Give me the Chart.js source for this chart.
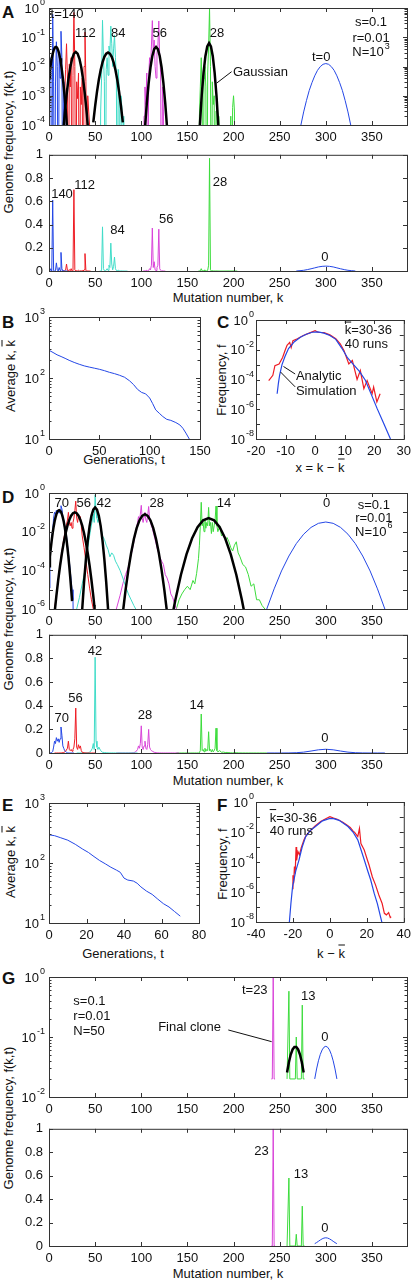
<!DOCTYPE html>
<html>
<head>
<meta charset="utf-8">
<script src="https://cdn.jsdelivr.net/npm/chart.js@4.4.0/dist/chart.umd.min.js"></script>
<style>
body{margin:0;background:#fff;width:416px;height:1280px;position:relative;overflow:hidden;font-family:"Liberation Sans",Arial,sans-serif;color:#111;}
canvas{position:absolute;left:0;}
.t{position:absolute;font-size:13px;white-space:nowrap;line-height:1;}
.L{position:absolute;font-size:17px;font-weight:bold;line-height:1;}
.ctr{transform:translate(-50%,-50%);}
.rot{transform:translate(-50%,-50%) rotate(-90deg);}
.ob{text-decoration:overline;}
</style>
</head>
<body>
<div class="L" style="left:2px;top:4px">A</div>
<div class="L" style="left:2px;top:314px">B</div>
<div class="L" style="left:217px;top:314px">C</div>
<div class="L" style="left:2px;top:489px">D</div>
<div class="L" style="left:2px;top:797px">E</div>
<div class="L" style="left:217px;top:797px">F</div>
<div class="L" style="left:2px;top:970px">G</div>

<div class="t rot" style="left:8px;top:142px">Genome frequency, f(k,t)</div>
<div class="t rot" style="left:8px;top:619px">Genome frequency, f(k,t)</div>
<div class="t rot" style="left:8px;top:1118px">Genome frequency, f(k,t)</div>
<div class="t rot" style="left:10px;top:376px">Average k, <span class="ob">k</span></div>
<div class="t rot" style="left:10px;top:862px">Average k, <span class="ob">k</span></div>
<div class="t rot" style="left:221px;top:380px">Frequency, f</div>
<div class="t rot" style="left:222px;top:864px">Frequency, f</div>

<div class="t ctr" style="left:228px;top:297px">Mutation number, k</div>
<div class="t ctr" style="left:228px;top:780px">Mutation number, k</div>
<div class="t ctr" style="left:228px;top:1273px">Mutation number, k</div>
<div class="t ctr" style="left:124px;top:459px">Generations, t</div>
<div class="t ctr" style="left:123px;top:953px">Generations, t</div>
<div class="t ctr" style="left:320px;top:467px">x = k &minus; <span class="ob">k</span></div>
<div class="t ctr" style="left:331px;top:953px">k &minus; <span class="ob">k</span></div>

<script>
// ---------- tick values ----------
const mainXTicks = [0, 50, 100, 150, 200, 250, 300, 350];
const linYTicks = [0, 0.2, 0.4, 0.6, 0.8, 1];
const bXTicks = [0, 50, 100, 150];
const eXTicks = [0, 20, 40, 60, 80];
const cXTicks = [-20, -10, 0, 10, 20, 30];
const fXTicks = [-40, -20, 0, 20, 40];

// ---------- panel A (N=10^3) ----------
const aBlueK0 = 0;   // t=140
const aBlueF = [0.01, 0.004, 0.02, 0, 0.61, 0.003, 0, 0.002, 0.07, 0.01, 0, 0.03, 0.004, 0.16, 0.02, 0, 0.003, 0.0005, 0, 0.0002, 0];
const aRedK0 = 15;   // t=112
const aRedF = [0, 0.0002, 0.001, 0.008, 0.06, 0.004, 0, 0.012, 0.002, 0.02, 0, 0.005, 0.70, 0.01, 0, 0.003, 0.0008, 0.006, 0, 0.002, 0.0005, 0.004, 0, 0.01, 0.15, 0.003, 0, 0.001, 0.0003, 0.0001, 0];
const aCyanK0 = 55;  // t=84
const aCyanF = [0, 0.0003, 0.004, 0.38, 0.02, 0.003, 0, 0.008, 0.02, 0.005, 0.05, 0.03, 0.24, 0.06, 0.01, 0.04, 0.12, 0.02, 0.005, 0, 0.008, 0.002, 0, 0.001, 0.0004, 0, 0.0002, 0, 0.0001, 0, 0];
const aMagK0 = 102;  // t=56
const aMagF = [0, 0.0002, 0.002, 0.0005, 0.006, 0, 0.004, 0.02, 0.01, 0.05, 0.37, 0.03, 0.08, 0.01, 0.004, 0.03, 0.05, 0.36, 0.02, 0.006, 0, 0.002, 0.0003, 0, 0.0001];
const aGreenK0 = 162; // t=28
const aGreenF = [0, 0.0002, 0.002, 0.02, 0.001, 0, 0.004, 0.01, 0.002, 0, 0.006, 0.05, 0.97, 0.01, 0, 0.003, 0.0005, 0.001, 0, 0.0003, 0.0008, 0, 0.0002, 0, 0, 0, 0, 0, 0, 0, 0, 0, 0, 0, 0, 0.0002, 0, 0.0004, 0.001, 0.0003, 0, 0.0001, 0];
const aT0Log = [[273,1e-4],[276,2.8e-4],[279,6.8e-4],[282,1.5e-3],[285,2.8e-3],[288,4.8e-3],[291,7.4e-3],[294,9.9e-3],[297,1.19e-2],[300,1.26e-2],[303,1.19e-2],[306,9.9e-3],[309,7.4e-3],[312,4.8e-3],[315,2.8e-3],[318,1.5e-3],[321,6.8e-4],[324,2.8e-4],[327,1e-4]];
const aT0Lin = [[268,0],[272,0.003],[276,0.006],[280,0.012],[284,0.019],[288,0.027],[292,0.035],[296,0.040],[300,0.042],[304,0.040],[308,0.035],[312,0.027],[316,0.019],[320,0.012],[324,0.006],[328,0.003],[332,0]];
const aGauss1 = [[0,0.0040],[1,0.0074],[2,0.0124],[3,0.0193],[4,0.0274],[5,0.0356],[6,0.0424],[7,0.0462],[8,0.0462],[9,0.0424],[10,0.0356],[11,0.0274],[12,0.0193],[13,0.0124],[14,0.0074],[15,0.0040],[16,0.00198],[17,0.0009],[18,0.00038],[19,0.000144],[20,0.00005]];
const aGauss2 = [[15,4e-5],[17,2.34e-4],[19,1.05e-3],[21,3.57e-3],[23,9.27e-3],[25,1.83e-2],[27,2.76e-2],[29,3.16e-2],[31,2.76e-2],[33,1.83e-2],[35,9.27e-3],[37,3.57e-3],[39,1.05e-3],[41,2.34e-4],[43,4e-5]];
const aGauss3 = [[48,1.22e-4],[50,4.44e-4],[52,1.36e-3],[54,3.51e-3],[56,7.6e-3],[58,1.39e-2],[60,2.14e-2],[62,2.77e-2],[64,3.0e-2],[66,2.77e-2],[68,2.14e-2],[70,1.39e-2],[72,7.6e-3],[74,3.51e-3],[76,1.36e-3],[78,4.44e-4],[80,1.22e-4]];
const aGauss4 = [[104,7.8e-5],[106,5.5e-4],[108,2.72e-3],[110,9.44e-3],[112,2.3e-2],[114,3.92e-2],[116,4.68e-2],[118,3.92e-2],[120,2.3e-2],[122,9.44e-3],[124,2.72e-3],[126,5.5e-4],[128,7.8e-5]];
const aGauss5 = [[163.5,1e-4],[165.5,1.02e-3],[167.5,6.2e-3],[169.5,2.25e-2],[171.5,4.88e-2],[173.5,6.3e-2],[175.5,4.88e-2],[177.5,2.25e-2],[179.5,6.2e-3],[181.5,1.02e-3],[183.5,1e-4]];

// ---------- panel D (N=10^6) ----------
const dBlue = [[0,1.2e-5],[1,3e-4],[2,1.5e-3],[3,5e-3],[4,0.012],[5,0.05],[6,0.1],[7,0.08],[8,0.13],[9,0.1],[10,0.12],[11,0.09],[12,0.12],[13,0.22],[14,0.15],[15,0.06],[16,0.04],[17,0.02],[18,0.012],[19,0.006],[20,0.002],[21,8e-4],[22,3e-4],[23,1e-4],[24,3e-5],[25,1e-5],[26,3e-6],[27,0]];
const dRed = [[6,1e-6],[8,5e-6],[10,3e-5],[12,2e-4],[14,1e-3],[16,4e-3],[18,0.015],[20,0.04],[21,0.1],[22,0.03],[23,0.02],[24,0.03],[25,0.015],[26,0.03],[27,0.05],[28,0.12],[29,0.38],[30,0.05],[31,0.03],[32,0.07],[33,0.04],[34,0.06],[35,0.02],[36,0.006],[38,1.5e-3],[40,3e-4],[42,6e-5],[44,1.2e-5],[46,3e-6],[48,1e-6],[50,0]];
const dCyan = [[30,1e-6],[33,4e-6],[36,2e-5],[39,1e-4],[41,5e-4],[43,3e-3],[45,0.012],[47,0.04],[48,0.08],[49,0.03],[50,0.81],[51,0.1],[52,0.05],[53,0.03],[54,0.05],[56,0.02],[58,0.006],[60,0.004],[62,0.002],[64,1.2e-3],[66,5e-4],[68,8e-4],[70,6e-4],[72,3e-4],[74,2e-4],[77,1e-4],[80,4e-5],[83,1.5e-5],[86,6e-6],[89,3e-6],[92,1.5e-6],[94,1e-6],[96,0]];
const dMag = [[73,1e-6],[77,5e-6],[80,2e-5],[83,6e-5],[86,1.5e-4],[88,4e-4],[90,1e-3],[92,3e-3],[94,0.01],[96,0.03],[97,0.06],[98,0.04],[99,0.08],[100,0.23],[101,0.05],[102,0.03],[103,0.06],[104,0.1],[105,0.04],[106,0.03],[107,0.07],[108,0.2],[109,0.05],[110,0.03],[111,0.02],[112,0.015],[114,0.006],[116,2.5e-3],[118,1e-3],[120,5e-4],[122,3e-4],[124,2e-4],[126,6e-5],[128,4e-5],[130,2e-5],[132,6e-6],[134,4e-6],[136,2e-6],[138,1e-6],[141,0]];
const dGreen = [[138,1e-6],[141,3e-6],[144,6e-6],[147,1e-5],[150,1.5e-5],[153,1e-5],[156,3e-5],[158,2e-5],[160,7e-5],[162,4e-4],[163,2e-3],[164,0.02],[165,0.33],[166,0.02],[167,0.03],[168,0.01],[169,0.04],[170,0.015],[171,0.03],[172,0.02],[173,0.18],[174,0.02],[175,0.03],[176,0.008],[177,0.03],[178,0.01],[179,0.02],[180,0.04],[181,0.21],[182,0.02],[183,0.01],[185,0.02],[187,0.006],[189,0.008],[191,0.004],[193,0.005],[195,0.003],[197,0.0015],[199,0.001],[201,0.002],[203,0.003],[205,8e-4],[207,5e-4],[210,2e-4],[213,1.5e-4],[216,6e-5],[219,1.5e-5],[222,2e-5],[225,3e-6],[228,3e-6],[231,1.5e-6],[234,1e-6],[236,0]];
const dT0 = [[236,1e-6],[244,1.1e-5],[252,9.3e-5],[260,5.5e-4],[268,2.4e-3],[276,7.4e-3],[284,1.66e-2],[292,2.7e-2],[300,3.16e-2],[308,2.7e-2],[316,1.66e-2],[324,7.4e-3],[332,2.4e-3],[340,5.5e-4],[348,9.3e-5],[356,1.1e-5],[364,1e-6]];
const dGauss1 = [[0,1.61e-4],[1,5.13e-4],[2,1.47e-3],[3,3.75e-3],[4,8.59e-3],[5,1.76e-2],[6,3.24e-2],[7,5.32e-2],[8,7.83e-2],[9,0.103],[10,0.122],[11,0.129],[12,0.122],[13,0.103],[14,7.83e-2],[15,5.32e-2],[16,3.24e-2],[17,1.76e-2],[18,8.59e-3],[19,3.75e-3],[20,1.47e-3],[21,5.13e-4],[22,1.61e-4],[23,4.51e-5],[24,1.13e-5],[25,2.55e-6]];
const dGauss2 = [[6,5.93e-7],[8,4.79e-6],[10,3.17e-5],[12,1.72e-4],[14,7.64e-4],[16,2.79e-3],[18,8.32e-3],[20,2.04e-2],[22,4.08e-2],[24,6.71e-2],[26,9.05e-2],[28,0.1],[30,9.05e-2],[32,6.71e-2],[34,4.08e-2],[36,2.04e-2],[38,8.32e-3],[40,2.79e-3],[42,7.64e-4],[44,1.72e-4],[46,3.17e-5],[48,4.79e-6],[50,5.93e-7]];
const dGauss3 = [[36,1e-6],[38,2.45e-5],[40,3.72e-4],[42,3.43e-3],[44,1.93e-2],[46,6.62e-2],[48,0.139],[50,0.178],[52,0.139],[54,6.62e-2],[56,1.93e-2],[58,3.43e-3],[60,3.72e-4],[62,2.45e-5],[64,1e-6]];
const dGauss4 = [[80,6.18e-7],[83,9.7e-6],[86,1.06e-4],[89,8.02e-4],[92,4.2e-3],[95,1.52e-2],[98,3.81e-2],[101,6.61e-2],[104,7.94e-2],[107,6.61e-2],[110,3.81e-2],[113,1.52e-2],[116,4.2e-3],[119,8.02e-4],[122,1.06e-4],[125,9.7e-6],[128,6.18e-7]];
const dGauss5 = [[134,5.61e-7],[137,3.03e-6],[143,5.89e-5],[149,6.68e-4],[155,4.42e-3],[161,1.7e-2],[167,3.83e-2],[173,5.01e-2],[179,3.83e-2],[185,1.7e-2],[191,4.42e-3],[197,6.68e-4],[203,5.89e-5],[209,3.03e-6],[212,5.61e-7]];

// ---------- panel G (N=50) ----------
const gMag = [[241,0],[242,0],[243,1.0],[244,0],[245,0]];
const gGreen = [[258,0],[259,0],[260,0.58],[261,0],[267,0],[268,0.1],[269,0],[273.5,0],[274.5,0.34],[275.5,0],[277,0]];
const gGauss = [[258,0.0257],[260,0.038],[262,0.051],[264,0.062],[266,0.0684],[268,0.0684],[270,0.062],[272,0.051],[274,0.038],[276,0.0257]];
const gT0 = [[288,0.020],[290,0.0293],[292,0.0401],[294,0.0512],[296,0.0609],[298,0.0676],[300,0.07],[302,0.0676],[304,0.0609],[306,0.0512],[308,0.0401],[310,0.0293],[312,0.020]];

// ---------- panels B, E (mean mutation number) ----------
const bMean = [[0,285],[4,262],[8,240],[12,225],[16,210],[20,195],[25,180],[30,168],[35,158],[40,151],[45,145],[50,139],[55,132],[60,124],[65,118],[70,111],[75,103],[80,90],[84,78],[88,65],[92,58],[96,55],[100,47],[103,38],[106,30],[110,26],[113,23.4],[117,21],[121,20.2],[126,18.6],[130,17],[133,15],[136,12.5],[140,9.6]];
const eMean = [[0,295],[3,285],[6,265],[10,240],[14,205],[18,170],[21,150],[24,128],[27,110],[30,97],[33,85],[36,76],[38,70],[40,56],[42,52],[45,50],[47,46],[49,40],[52,34],[55,30],[58,25],[61,21],[64,18.5],[67,15.5],[70,13]];

// ---------- panels C, F (distribution around the mean) ----------
const cAnalytic = [[-12.85,1.1e-5],[-12.4,6e-5],[-12,2e-4],[-11.2,1e-3],[-10.2,3.5e-3],[-9,0.012],[-7,0.035],[-5,0.07],[-3,0.11],[-1,0.15],[1,0.16],[3,0.13],[5,0.09],[7,0.05],[9,0.013],[11,2.8e-3],[13,1e-3],[15,3.5e-4],[17,9e-5],[19,1e-5],[21,1.1e-6],[23,1.4e-7],[25.5,1e-8]];
const cSim = [[-15.7,8.5e-5],[-14.3,1.9e-4],[-13.6,8.5e-4],[-12.2,1.1e-3],[-11,3e-3],[-10.2,8.5e-3],[-9.5,0.02],[-8.6,0.031],[-8.1,0.014],[-7.5,0.04],[-6,0.055],[-4,0.09],[-2,0.13],[0,0.19],[1,0.15],[3,0.14],[5,0.1],[7,0.055],[8.5,0.025],[9.8,8.5e-3],[11.4,1.1e-3],[12.6,1.9e-3],[14.2,1e-4],[15.3,4e-4],[16.5,2.4e-5],[17.6,8.5e-5],[19.3,1.1e-5],[19.8,3.1e-5],[20.9,3.1e-6],[22,1.1e-5]];
const fAnalytic = [[-22,8e-9],[-21.1,1.7e-7],[-20.2,2.3e-6],[-18.5,2.5e-5],[-16.7,1.4e-4],[-15,1e-3],[-13.1,4.9e-3],[-10.5,0.013],[-7.8,0.023],[-4,0.055],[0,0.08],[2,0.078],[5,0.06],[9.8,0.023],[12.5,0.01],[15.1,3e-3],[18.6,1.4e-4],[20.5,2.5e-5],[22.1,6.3e-6],[24,8e-7],[25.7,1.7e-7],[28.3,8e-9]];
const fSim = [[-20.4,1.7e-6],[-20,1.3e-5],[-19.6,3.8e-6],[-19.2,4.9e-5],[-18.8,1.7e-5],[-18.3,1e-3],[-18,1.3e-4],[-17.3,5e-4],[-16.5,3e-4],[-15.5,9e-4],[-14,3e-3],[-13,5.5e-3],[-11,0.011],[-8,0.025],[-5,0.05],[-2,0.08],[0,0.105],[2,0.085],[4,0.07],[7,0.045],[9,0.03],[11,0.02],[12.5,0.012],[13.5,0.009],[15.1,4.9e-3],[16,0.017],[16.8,1.7e-3],[18.6,6.3e-4],[20.3,1.35e-4],[21.2,6.3e-5],[23,1e-5],[24.7,3e-6],[26.5,6.3e-7],[28.3,1.7e-7],[29.5,3.8e-8],[30.6,3e-8],[31.8,4.2e-8],[32.7,2e-8],[33.2,2.2e-8]];

// ---------- look ----------
const BLUE = '#2447e6', RED = '#ee1c24', CYAN = '#40dcc8', MAG = '#d944d9', GREEN = '#3cdc3c', BLACK = '#000';
const FONT = '13px "Liberation Sans", Arial, sans-serif';
const SUP = '9px "Liberation Sans", Arial, sans-serif';
const TINY = 1e-9;

Chart.defaults.font.family = '"Liberation Sans", Arial, sans-serif';
Chart.defaults.font.size = 13;
Chart.defaults.color = '#111';

function pts(pairs, floor) {
  return pairs.map(p => ({x: p[0], y: floor ? Math.max(p[1], floor) : p[1]}));
}
function run(k0, vals, floor) {
  return vals.map((v, i) => ({x: k0 + i, y: floor ? Math.max(v, floor) : v}));
}
function line(data, color, w) {
  return {data: data, borderColor: color, borderWidth: w || 1, pointRadius: 0, fill: false, tension: 0};
}

function drawNote(ctx, n, px, py) {
  ctx.font = FONT;
  const w1 = ctx.measureText(n.t).width;
  ctx.font = SUP;
  const w2 = n.sup ? ctx.measureText(n.sup).width + 1 : 0;
  let x0 = px;
  if (!n.a || n.a === 'center') x0 = px - (w1 + w2) / 2;
  else if (n.a === 'right') x0 = px - w1 - w2;
  ctx.fillStyle = '#111';
  ctx.textAlign = 'left';
  ctx.textBaseline = 'middle';
  ctx.font = FONT;
  ctx.fillText(n.t, x0, py);
  if (n.bar) {
    const wk = ctx.measureText('k').width;
    ctx.fillRect(x0, py - 9, wk, 1);
  }
  if (n.sup) {
    ctx.font = SUP;
    ctx.fillText(n.sup, x0 + w1 + 1, py - 6);
  }
}

function framePlugin(o) {
  return {
    id: 'frame',
    afterDraw(chart) {
      const ctx = chart.ctx, a = chart.chartArea, x = chart.scales.x, y = chart.scales.y;
      ctx.save();
      ctx.strokeStyle = '#333';
      ctx.lineWidth = 1;
      ctx.strokeRect(a.left + 0.5, a.top + 0.5, a.right - a.left, a.bottom - a.top);
      ctx.beginPath();
      o.xt.forEach(v => {
        const p = Math.round(x.getPixelForValue(v)) + 0.5;
        ctx.moveTo(p, a.bottom); ctx.lineTo(p, a.bottom - 4);
        ctx.moveTo(p, a.top); ctx.lineTo(p, a.top + 4);
      });
      o.yt.forEach(v => {
        const p = Math.round(y.getPixelForValue(v)) + 0.5;
        ctx.moveTo(a.left, p); ctx.lineTo(a.left + 4, p);
        ctx.moveTo(a.right, p); ctx.lineTo(a.right - 4, p);
      });
      if (o.minor) {
        for (let i = 0; i < o.yt.length - 1; i++) {
          for (let m = 2; m < 10; m++) {
            const p = Math.round(y.getPixelForValue(o.yt[i] * m)) + 0.5;
            ctx.moveTo(a.left, p); ctx.lineTo(a.left + 2.5, p);
            ctx.moveTo(a.right, p); ctx.lineTo(a.right - 2.5, p);
          }
        }
      }
      ctx.stroke();
      if (o.log) {
        const gap = o.gap || 4;
        o.yt.forEach(v => {
          const e = Math.round(Math.log10(v));
          if (o.every && e % o.every !== 0) return;
          drawNote(ctx, {t: '10', sup: String(e), a: 'right'}, a.left - gap, y.getPixelForValue(v) + 1);
        });
      }
      ctx.strokeStyle = '#111';
      ctx.beginPath();
      (o.leaders || []).forEach(l => {
        ctx.moveTo(x.getPixelForValue(l[0]), y.getPixelForValue(l[1]));
        ctx.lineTo(x.getPixelForValue(l[2]), y.getPixelForValue(l[3]));
      });
      ctx.stroke();
      (o.notes || []).forEach(n => drawNote(ctx, n, x.getPixelForValue(n.x), y.getPixelForValue(n.y)));
      ctx.restore();
    }
  };
}

function panel(o) {
  const cv = document.createElement('canvas');
  const top = o.box[1] - 12;
  cv.width = 416;
  cv.height = o.box[3] - top + 28;
  cv.style.top = top + 'px';
  document.body.appendChild(cv);
  new Chart(cv, {
    type: 'line',
    data: {datasets: o.sets},
    options: {
      responsive: false,
      animation: false,
      events: [],
      layout: {padding: {top: 12, right: 416 - o.box[2], left: 0, bottom: 0}},
      plugins: {legend: {display: false}, tooltip: {enabled: false}},
      scales: {
        x: {
          type: 'linear', min: o.xmin, max: o.xmax,
          afterFit: s => { s.height = 28; },
          afterBuildTicks: s => { s.ticks = o.xt.map(v => ({value: v})); },
          grid: {display: false, drawTicks: false},
          border: {display: false},
          ticks: {padding: 5, maxRotation: 0, autoSkip: false, color: '#111', callback: v => String(v)}
        },
        y: {
          type: o.log ? 'logarithmic' : 'linear', min: o.ymin, max: o.ymax,
          afterFit: s => { s.width = o.box[0]; },
          afterBuildTicks: s => { s.ticks = o.yt.map(v => ({value: v})); },
          grid: {display: false, drawTicks: false},
          border: {display: false},
          ticks: {display: !o.log, padding: 6, color: '#111', callback: v => String(v)}
        }
      }
    },
    plugins: [framePlugin(o)]
  });
}

// A top (log)
panel({
  box: [49, 8, 407, 125], xmin: 0, xmax: 388, xt: mainXTicks,
  log: true, ymin: 1e-4, ymax: 1, yt: [1e-4, 1e-3, 1e-2, 1e-1, 1], minor: true,
  sets: [
    line(pts(aGauss1), BLACK, 2.5), line(pts(aGauss2), BLACK, 2.5), line(pts(aGauss3), BLACK, 2.5),
    line(pts(aGauss4), BLACK, 2.5), line(pts(aGauss5), BLACK, 2.5),
    line(run(aBlueK0, aBlueF, TINY), BLUE), line(run(aRedK0, aRedF, TINY), RED),
    line(run(aCyanK0, aCyanF, TINY), CYAN), line(run(aMagK0, aMagF, TINY), MAG),
    line(run(aGreenK0, aGreenF, TINY), GREEN), line(pts(aT0Log), BLUE)
  ],
  notes: [
    {x: 19.5, y: 0.58, t: 't=140'}, {x: 39.5, y: 0.14, t: '112'}, {x: 75, y: 0.14, t: '84'},
    {x: 120, y: 0.14, t: '56'}, {x: 182, y: 0.14, t: '28'}, {x: 295, y: 0.021, t: 't=0'},
    {x: 349, y: 0.31, t: 's=0.1'}, {x: 349, y: 0.094, t: 'r=0.01'}, {x: 349, y: 0.03, t: 'N=10', sup: '3'},
    {x: 199.4, y: 0.0065, t: 'Gaussian', a: 'left'}
  ],
  leaders: [[197.9, 0.00665, 181.7, 0.0027]]
});

// A bottom (linear)
panel({
  box: [49, 153, 407, 271], xmin: 0, xmax: 388, xt: mainXTicks,
  ymin: 0, ymax: 1, yt: linYTicks,
  sets: [
    line(run(aBlueK0, aBlueF), BLUE), line(run(aRedK0, aRedF), RED), line(run(aCyanK0, aCyanF), CYAN),
    line(run(aMagK0, aMagF), MAG), line(run(aGreenK0, aGreenF), GREEN), line(pts(aT0Lin), BLUE)
  ],
  notes: [
    {x: 14.1, y: 0.66, t: '140'}, {x: 38.5, y: 0.737, t: '112'}, {x: 74.2, y: 0.347, t: '84'},
    {x: 127, y: 0.44, t: '56'}, {x: 185.3, y: 0.763, t: '28'}, {x: 299, y: 0.119, t: '0'}
  ]
});

// B
panel({
  box: [49, 317, 200, 439], xmin: 0, xmax: 150, xt: bXTicks,
  log: true, ymin: 10, ymax: 1000, yt: [10, 100, 1000], minor: true,
  sets: [line(pts(bMean), BLUE)]
});

// C
panel({
  box: [256, 320, 407, 439], xmin: -20, xmax: 30, xt: cXTicks,
  log: true, ymin: 1e-8, ymax: 1, yt: [1e-8, 1e-7, 1e-6, 1e-5, 1e-4, 1e-3, 1e-2, 1e-1, 1], every: 2, gap: 2,
  sets: [line(pts(cAnalytic), BLUE, 1.2), line(pts(cSim), RED, 1.2)],
  notes: [
    {x: 10, y: 0.195, t: 'k=30-36', a: 'left', bar: true}, {x: 10, y: 0.0245, t: '40 runs', a: 'left'},
    {x: -6.5, y: 1.7e-4, t: 'Analytic', a: 'left'}, {x: -6.5, y: 1.6e-5, t: 'Simulation', a: 'left'}
  ],
  leaders: [[-6.75, 2.34e-4, -10.7, 7.5e-4], [-6.75, 3.2e-5, -11.7, 3.2e-4]]
});

// D top (log)
panel({
  box: [49, 493, 407, 609], xmin: 0, xmax: 388, xt: mainXTicks,
  log: true, ymin: 1e-6, ymax: 1, yt: [1e-6, 1e-5, 1e-4, 1e-3, 1e-2, 1e-1, 1], every: 2,
  sets: [
    line(pts(dGauss1), BLACK, 2.5), line(pts(dGauss2), BLACK, 2.5), line(pts(dGauss3), BLACK, 2.5),
    line(pts(dGauss4), BLACK, 2.5), line(pts(dGauss5), BLACK, 2.5),
    line(pts(dBlue, TINY), BLUE), line(pts(dRed, TINY), RED), line(pts(dCyan, TINY), CYAN),
    line(pts(dMag, TINY), MAG), line(pts(dGreen, TINY), GREEN), line(pts(dT0), BLUE)
  ],
  notes: [
    {x: 13.7, y: 0.3, t: '70'}, {x: 37.6, y: 0.3, t: '56'}, {x: 59.6, y: 0.3, t: '42'},
    {x: 116.7, y: 0.3, t: '28'}, {x: 189.6, y: 0.3, t: '14'}, {x: 301, y: 0.3, t: '0'},
    {x: 352, y: 0.24, t: 's=0.1'}, {x: 352, y: 0.051, t: 'r=0.01'}, {x: 352, y: 0.0096, t: 'N=10', sup: '6'}
  ]
});

// D bottom (linear)
panel({
  box: [49, 633, 407, 753], xmin: 0, xmax: 388, xt: mainXTicks,
  ymin: 0, ymax: 1, yt: linYTicks,
  sets: [
    line(pts(dBlue), BLUE), line(pts(dRed), RED), line(pts(dCyan), CYAN),
    line(pts(dMag), MAG), line(pts(dGreen), GREEN), line(pts(dT0), BLUE)
  ],
  notes: [
    {x: 49.8, y: 0.858, t: '42'}, {x: 28.7, y: 0.458, t: '56'}, {x: 13.7, y: 0.294, t: '70'},
    {x: 104, y: 0.314, t: '28'}, {x: 160, y: 0.4, t: '14'}, {x: 299, y: 0.125, t: '0'}
  ]
});

// E
panel({
  box: [49, 803, 199, 923], xmin: 0, xmax: 80, xt: eXTicks,
  log: true, ymin: 10, ymax: 1000, yt: [10, 100, 1000], minor: true,
  sets: [line(pts(eMean), BLUE)]
});

// F
panel({
  box: [256, 802, 407, 922], xmin: -40, xmax: 40, xt: fXTicks,
  log: true, ymin: 1e-8, ymax: 1, yt: [1e-8, 1e-7, 1e-6, 1e-5, 1e-4, 1e-3, 1e-2, 1e-1, 1], every: 2, gap: 2,
  sets: [line(pts(fAnalytic), BLUE, 1.2), line(pts(fSim), RED, 1.2)],
  notes: [
    {x: -32.6, y: 0.085, t: 'k=30-36', a: 'left', bar: true}, {x: -32.6, y: 0.0105, t: '40 runs', a: 'left'}
  ]
});

// G top (log)
panel({
  box: [49, 977, 407, 1097], xmin: 0, xmax: 388, xt: mainXTicks,
  log: true, ymin: 0.01, ymax: 1, yt: [0.01, 0.1, 1], minor: true,
  sets: [
    line(pts(gGauss), BLACK, 2.5), line(pts(gMag, 0.02), MAG), line(pts(gGreen, 0.02), GREEN), line(pts(gT0), BLUE)
  ],
  notes: [
    {x: 223, y: 0.607, t: 't=23'}, {x: 281, y: 0.47, t: '13'}, {x: 299, y: 0.1, t: '0'},
    {x: 26.4, y: 0.39, t: 's=0.1', a: 'left'}, {x: 26.4, y: 0.224, t: 'r=0.01', a: 'left'},
    {x: 26.4, y: 0.123, t: 'N=50', a: 'left'}, {x: 152.4, y: 0.147, t: 'Final clone'}
  ],
  leaders: [[194.3, 0.131, 241.3, 0.0836]]
});

// G bottom (linear)
panel({
  box: [49, 1127, 407, 1246], xmin: 0, xmax: 388, xt: mainXTicks,
  ymin: 0, ymax: 1, yt: linYTicks,
  sets: [line(pts(gMag), MAG), line(pts(gGreen), GREEN), line(pts(gT0), BLUE)],
  notes: [{x: 230.4, y: 0.807, t: '23'}, {x: 273, y: 0.613, t: '13'}, {x: 299, y: 0.151, t: '0'}]
});
</script>
</body>
</html>
